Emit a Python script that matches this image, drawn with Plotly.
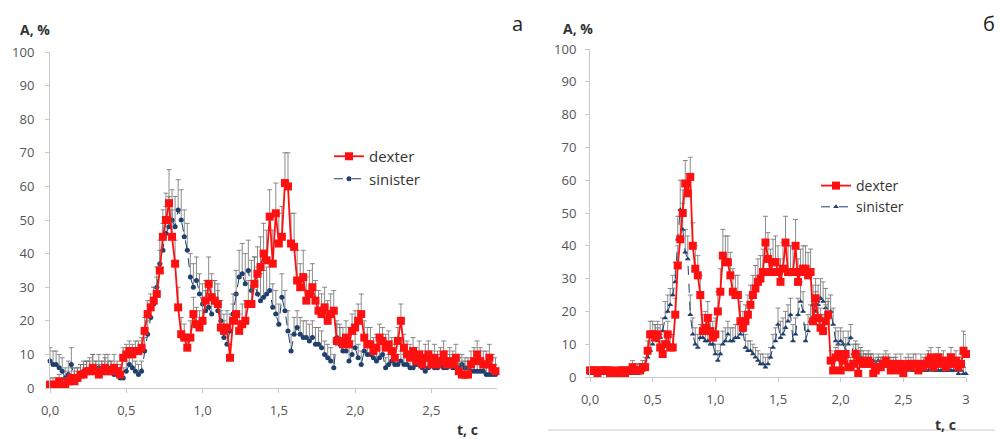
import numpy as np
import plotly.graph_objects as go

STEP = 0.02

# ---------- panel "а" (left) ----------
left_dexter = [
    1, 1, 1, 2, 1, 1, 2, 3, 2, 3,
    4, 4, 5, 5, 6, 5, 4, 5, 6, 5,
    5, 6, 5, 4, 9, 10, 11, 10, 11, 11,
    12, 17, 22, 24, 26, 28, 35, 45, 50, 55,
    45, 37, 24, 16, 15, 12, 15, 22, 19, 18,
    20, 26, 31, 27, 26, 25, 18, 17, 18, 9,
    20, 22, 17, 19, 20, 25, 25, 31, 34, 36,
    40, 38, 51, 37, 52, 43, 45, 61, 60, 43,
    42, 32, 30, 33, 26, 28, 30, 26, 23, 22,
    24, 20, 22, 23, 14, 14, 13, 15, 13, 17,
    18, 20, 22, 15, 13, 13, 11, 12, 15, 14,
    12, 13, 11, 9, 14, 20, 12, 10, 9, 11,
    8, 10, 7, 9, 10, 7, 9, 7, 8, 10,
    7, 8, 7, 9, 5, 4, 4, 4, 7, 8,
    10, 8, 7, 7, 9, 6, 5,
]
left_dexter_err = [
    2, 2, 2, 2, 2, 2, 3, 3, 3, 3,
    3, 3, 3, 3, 4, 3, 3, 3, 4, 3,
    3, 4, 3, 3, 3, 3, 3, 3, 3, 3,
    3, 4, 4, 4, 4, 5, 6, 8, 8, 10,
    8, 7, 6, 5, 4, 4, 5, 5, 5, 5,
    5, 6, 8, 7, 6, 6, 5, 5, 5, 4,
    5, 6, 5, 6, 6, 7, 7, 8, 8, 9,
    9, 9, 8, 10, 9, 9, 9, 9, 10, 9,
    10, 9, 7, 8, 7, 7, 7, 6, 6, 6,
    6, 6, 6, 6, 5, 5, 5, 5, 5, 5,
    5, 5, 6, 5, 5, 5, 4, 4, 4, 4,
    4, 4, 4, 4, 4, 5, 4, 4, 4, 4,
    4, 4, 4, 4, 4, 4, 4, 4, 4, 4,
    4, 4, 4, 4, 4, 4, 4, 4, 4, 4,
    4, 4, 4, 4, 4, 4, 4,
]
left_sinister = [
    8, 7, 7, 6, 5, 3, 4, 7, 3, 3,
    4, 5, 5, 5, 6, 5, 6, 5, 5, 6,
    5, 4, 4, 3, 3, 5, 7, 6, 5, 4,
    5, 11, 16, 21, 25, 30, 37, 41, 46, 48,
    50, 48, 53, 50, 45, 41, 33, 30, 32, 28,
    25, 23, 24, 22, 26, 23, 20, 15, 13, 17,
    22, 28, 33, 34, 31, 35, 29, 31, 28, 26,
    27, 28, 29, 24, 22, 19, 27, 23, 17, 11,
    16, 18, 16, 15, 15, 14, 15, 13, 13, 12,
    10, 9, 8, 6, 15, 13, 11, 11, 8, 10,
    12, 9, 7, 11, 10, 10, 9, 8, 9, 10,
    6, 7, 8, 7, 7, 8, 7, 7, 6, 6,
    7, 7, 6, 5, 6, 7, 6, 6, 7, 6,
    6, 7, 6, 6, 6, 7, 6, 6, 5, 5,
    5, 5, 5, 4, 4, 4, 4,
]
left_sinister_err = [
    4, 4, 4, 4, 4, 3, 4, 5, 3, 3,
    3, 3, 3, 4, 4, 3, 4, 3, 4, 4,
    3, 3, 3, 3, 3, 3, 4, 4, 3, 3,
    3, 4, 4, 5, 5, 6, 7, 8, 8, 9,
    9, 9, 9, 9, 8, 8, 7, 7, 7, 6,
    6, 6, 6, 6, 6, 6, 6, 5, 5, 5,
    6, 7, 8, 9, 9, 9, 9, 8, 8, 8,
    8, 8, 8, 7, 7, 6, 7, 6, 6, 5,
    5, 5, 5, 5, 5, 5, 5, 5, 5, 5,
    4, 4, 4, 4, 5, 5, 4, 4, 4, 4,
    4, 4, 4, 4, 4, 4, 4, 4, 4, 4,
    3, 3, 3, 3, 3, 3, 3, 3, 3, 3,
    3, 3, 3, 3, 3, 3, 3, 3, 3, 3,
    3, 3, 3, 3, 3, 3, 3, 3, 3, 3,
    3, 3, 3, 3, 3, 3, 3,
]

# ---------- panel "б" (right) ----------
right_dexter = [
    2, 2, 2, 1, 2, 2, 2, 2, 1, 2,
    1, 1, 2, 2, 1, 2, 2, 3, 2, 2,
    2, 3, 3, 8, 13, 13, 12, 13, 9, 7,
    10, 13, 9, 9, 19, 34, 42, 50, 59, 56,
    61, 40, 33, 31, 25, 14, 15, 18, 14, 12,
    13, 20, 26, 37, 35, 35, 31, 26, 25, 25,
    17, 15, 17, 19, 22, 25, 27, 29, 30, 32,
    41, 36, 32, 35, 35, 32, 29, 33, 41, 32,
    32, 32, 40, 29, 32, 33, 33, 31, 32, 17,
    24, 18, 15, 14, 17, 19, 5, 2, 6, 7,
    2, 5, 7, 3, 3, 4, 7, 1, 5, 4,
    4, 5, 4, 1, 2, 3, 3, 4, 5, 4,
    2, 3, 4, 2, 4, 1, 3, 4, 3, 4,
    4, 2, 4, 3, 4, 5, 6, 3, 4, 6,
    4, 5, 3, 4, 6, 4, 5, 3, 4, 8,
    7,
]
right_dexter_err = [
    1, 1, 1, 1, 1, 1, 1, 1, 1, 1,
    1, 1, 1, 1, 1, 1, 1, 2, 2, 2,
    2, 2, 2, 3, 4, 4, 4, 4, 4, 4,
    4, 4, 4, 4, 5, 6, 7, 7, 7, 6,
    6, 7, 7, 6, 6, 5, 5, 5, 5, 5,
    5, 6, 7, 8, 8, 8, 7, 7, 6, 6,
    6, 5, 5, 6, 6, 6, 7, 7, 7, 7,
    8, 8, 7, 7, 8, 8, 7, 8, 8, 8,
    8, 8, 8, 7, 7, 7, 7, 7, 7, 6,
    6, 6, 6, 5, 5, 5, 3, 3, 3, 3,
    3, 3, 3, 3, 3, 3, 3, 3, 3, 3,
    3, 3, 3, 3, 3, 3, 3, 3, 3, 3,
    3, 3, 3, 3, 3, 3, 3, 3, 3, 3,
    3, 3, 3, 3, 3, 3, 3, 3, 3, 3,
    3, 3, 3, 3, 3, 3, 3, 3, 3, 6,
    6,
]
right_sinister = [
    1, 1, 1, 1, 1, 1, 1, 1, 1, 1,
    1, 1, 1, 1, 1, 1, 1, 2, 1, 1,
    2, 2, 4, 6, 8, 10, 12, 11, 12, 14,
    18, 20, 22, 25, 29, 42, 51, 45, 38, 36,
    19, 13, 10, 9, 12, 12, 11, 11, 10, 10,
    7, 5, 7, 10, 11, 13, 11, 11, 12, 12,
    13, 14, 9, 8, 8, 7, 6, 5, 4, 4,
    3, 4, 6, 9, 11, 16, 12, 13, 15, 17,
    19, 11, 13, 19, 23, 20, 11, 14, 17, 22,
    20, 22, 24, 23, 21, 18, 20, 16, 11, 10,
    11, 10, 8, 10, 12, 7, 8, 7, 6, 5,
    5, 5, 5, 5, 4, 5, 4, 4, 4, 4,
    4, 3, 4, 3, 3, 3, 2, 3, 2, 2,
    2, 2, 2, 2, 2, 2, 3, 2, 2, 2,
    2, 2, 2, 2, 2, 2, 2, 1, 2, 1,
    1,
]
right_sinister_err = [
    1, 1, 1, 1, 1, 1, 1, 1, 1, 1,
    1, 1, 1, 1, 1, 1, 1, 1, 1, 1,
    2, 2, 2, 3, 3, 4, 4, 4, 4, 4,
    5, 5, 5, 6, 6, 7, 9, 8, 7, 7,
    6, 5, 5, 4, 4, 4, 4, 4, 4, 4,
    3, 3, 3, 4, 4, 4, 4, 4, 4, 4,
    4, 4, 4, 3, 3, 3, 3, 3, 3, 3,
    3, 3, 3, 4, 4, 5, 5, 5, 5, 5,
    5, 5, 5, 5, 6, 6, 5, 5, 5, 6,
    6, 6, 6, 6, 6, 5, 5, 5, 4, 4,
    4, 4, 4, 4, 4, 3, 3, 3, 3, 3,
    2, 2, 2, 2, 2, 2, 2, 2, 2, 2,
    2, 2, 2, 2, 2, 2, 2, 2, 2, 2,
    2, 2, 2, 2, 2, 2, 2, 2, 2, 2,
    2, 2, 2, 2, 2, 2, 2, 2, 2, 2,
    2,
]

y_ticks = [0, 10, 20, 30, 40, 50, 60, 70, 80, 90, 100]
x_ticks_left = [0.0, 0.5, 1.0, 1.5, 2.0, 2.5]
x_labels_left = ["0,0", "0,5", "1,0", "1,5", "2,0", "2,5"]
x_ticks_right = [0.0, 0.5, 1.0, 1.5, 2.0, 2.5, 3.0]
x_labels_right = ["0,0", "0,5", "1,0", "1,5", "2,0", "2,5", "3"]

t_left = np.round(np.arange(len(left_dexter)) * STEP, 2)
t_right = np.round(np.arange(len(right_dexter)) * STEP, 2)

RED = "#FF1010"
BLUE = "#1F3F6E"
ERR = "#6e6e6e"

# the page body has an 8 px default margin; the figure fills the rest of the window
OFF = 8
W, H = 1003 - OFF, 439 - OFF


def px(x):
    return (x - OFF) / W


def py(y):
    return 1 - (y - OFF) / H


fig = go.Figure()


def add_pair(t, dex, dex_err, sin, sin_err, xa, ya, leg, sin_symbol):
    fig.add_trace(go.Scatter(
        x=t, y=sin, name="sinister", legend=leg, legendrank=2,
        mode="lines+markers", xaxis=xa, yaxis=ya,
        line=dict(color=BLUE, width=1, dash="dash"),
        marker=dict(symbol=sin_symbol, size=5, color=BLUE),
        error_y=dict(type="data", array=sin_err, arrayminus=[0] * len(sin_err),
                     symmetric=False, color=ERR, thickness=0.8, width=2.5),
        cliponaxis=False,
    ))
    fig.add_trace(go.Scatter(
        x=t, y=dex, name="dexter", legend=leg, legendrank=1,
        mode="lines+markers", xaxis=xa, yaxis=ya,
        line=dict(color=RED, width=1.8),
        marker=dict(symbol="square", size=8, color=RED),
        error_y=dict(type="data", array=dex_err, arrayminus=[0] * len(dex_err),
                     symmetric=False, color=ERR, thickness=0.8, width=2.5),
        cliponaxis=False,
    ))


add_pair(t_left, left_dexter, left_dexter_err, left_sinister, left_sinister_err,
         "x", "y", "legend", "circle")
add_pair(t_right, right_dexter, right_dexter_err, right_sinister, right_sinister_err,
         "x2", "y2", "legend2", "triangle-up")

tickfont = dict(family="Open Sans, sans-serif", size=13, color="#555555")
axis_common = dict(
    showgrid=False, zeroline=False, showline=True, linecolor="#c8c8c8", linewidth=1,
    ticks="outside", ticklen=4, tickcolor="#c8c8c8", tickfont=tickfont, automargin=False,
)

fig.update_layout(
    width=W, height=H,
    margin=dict(l=0, r=0, t=0, b=0, autoexpand=False),
    paper_bgcolor="white", plot_bgcolor="white",
    font=dict(family="Open Sans, sans-serif", color="#333333"),
    xaxis=dict(domain=[px(50), px(497)], range=[0, 2.93], tickvals=x_ticks_left,
               ticktext=x_labels_left, anchor="y", ticklabelstandoff=6, **axis_common),
    yaxis=dict(domain=[py(388), py(52)], range=[0, 100], tickvals=y_ticks,
               anchor="x", ticklabelstandoff=8, **axis_common),
    xaxis2=dict(domain=[px(590), px(966)], range=[0, 3.0], tickvals=x_ticks_right,
                ticktext=x_labels_right, anchor="y2", ticklabelstandoff=6, **axis_common),
    yaxis2=dict(domain=[py(377), py(49)], range=[0, 100], tickvals=y_ticks,
                anchor="x2", ticklabelstandoff=6, **axis_common),
    legend=dict(x=px(329), y=py(140), xanchor="left", yanchor="top",
                tracegroupgap=4, bgcolor="rgba(0,0,0,0)",
                font=dict(size=15, color="#333333")),
    legend2=dict(x=px(816), y=py(170), xanchor="left", yanchor="top",
                 tracegroupgap=2, bgcolor="rgba(0,0,0,0)",
                 font=dict(size=14, color="#333333")),
    showlegend=True,
)

annotations = [
    dict(text="<b>A, %</b>", x=px(18), y=py(29), xanchor="left", yanchor="middle",
         font=dict(size=14, color="#333333")),
    dict(text="<b>A, %</b>", x=px(561), y=py(28), xanchor="left", yanchor="middle",
         font=dict(size=14, color="#333333")),
    dict(text="<b>t, c</b>", x=px(455), y=py(429), xanchor="left", yanchor="middle",
         font=dict(size=14, color="#333333")),
    dict(text="<b>t, c</b>", x=px(933), y=py(424), xanchor="left", yanchor="middle",
         font=dict(size=14, color="#333333")),
    dict(text="а", x=px(517), y=py(23), xanchor="center", yanchor="middle",
         font=dict(size=20, color="#222222")),
    dict(text="б", x=px(989), y=py(23), xanchor="center", yanchor="middle",
         font=dict(size=20, color="#222222")),
]
for a in annotations:
    a.update(xref="paper", yref="paper", showarrow=False)
fig.update_layout(annotations=annotations)

fig.add_shape(type="line", xref="paper", yref="paper",
              x0=px(548), x1=1.0, y0=py(430), y1=py(430),
              line=dict(color="#c8c8c8", width=1))

fig.write_html("out.html")
